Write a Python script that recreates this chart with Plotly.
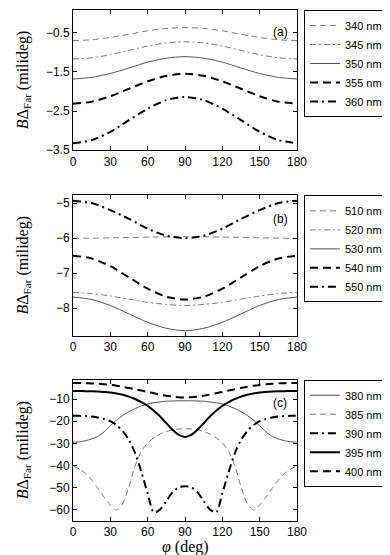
import plotly.graph_objects as go

# angle grids (deg)
phi_ab = [0, 15, 30, 45, 60, 75, 90, 105, 120, 135, 150, 165, 180]
phi_c = list(range(0, 181, 5))

# panel (a)
a340 = [-0.70, -0.68, -0.62, -0.54, -0.45, -0.39, -0.37, -0.39, -0.45, -0.54, -0.62, -0.68, -0.70]
a345 = [-1.17, -1.14, -1.06, -0.95, -0.84, -0.76, -0.73, -0.76, -0.84, -0.95, -1.06, -1.14, -1.17]
a350 = [-1.68, -1.64, -1.54, -1.40, -1.25, -1.15, -1.11, -1.15, -1.25, -1.40, -1.54, -1.64, -1.68]
a355 = [-2.31, -2.26, -2.12, -1.93, -1.74, -1.60, -1.55, -1.60, -1.74, -1.93, -2.12, -2.26, -2.31]
a360 = [-3.32, -3.24, -3.03, -2.73, -2.44, -2.22, -2.14, -2.22, -2.44, -2.73, -3.03, -3.24, -3.32]

# panel (b)
b510 = [-6.01, -6.00, -5.99, -5.98, -5.97, -5.96, -5.96, -5.96, -5.97, -5.98, -5.99, -6.00, -6.01]
b520 = [-7.55, -7.58, -7.65, -7.74, -7.83, -7.89, -7.92, -7.89, -7.83, -7.74, -7.65, -7.58, -7.55]
b530 = [-7.68, -7.75, -7.92, -8.16, -8.40, -8.57, -8.64, -8.57, -8.40, -8.16, -7.92, -7.75, -7.68]
b540 = [-6.50, -6.58, -6.80, -7.12, -7.44, -7.67, -7.75, -7.67, -7.44, -7.12, -6.80, -6.58, -6.50]
b550 = [-4.93, -5.00, -5.20, -5.45, -5.73, -5.93, -6.00, -5.93, -5.73, -5.45, -5.20, -5.00, -4.93]

# panel (c)
c380 = [-29.5, -29.3, -28.8, -28.0, -26.8, -24.8, -22.0, -19.5, -17.4, -15.7, -14.3, -13.1, -12.2,
        -11.7, -11.3, -11.0, -10.9, -10.8, -10.8, -10.8, -10.9, -11.0, -11.3, -11.7, -12.2, -13.1,
        -14.3, -15.7, -17.4, -19.5, -22.0, -24.8, -26.8, -28.0, -28.8, -29.3, -29.5]
c385 = [-40.2, -41.5, -43.5, -46.5, -50.3, -54.2, -57.8, -60.0, -57.0, -49.5, -40.0, -33.5, -29.8,
        -27.4, -25.8, -24.7, -23.9, -23.5, -23.4, -23.5, -23.9, -24.7, -25.8, -27.4, -29.8, -33.5,
        -40.0, -49.5, -57.0, -60.0, -57.8, -54.2, -50.3, -46.5, -43.5, -41.5, -40.2]
c390 = [-17.6, -17.6, -17.7, -17.9, -18.3, -19.0, -20.0, -21.8, -24.5, -28.5, -34.5, -43.0, -52.5,
        -61.2, -59.8, -56.0, -52.0, -49.8, -49.3, -49.8, -52.0, -56.0, -59.8, -61.2, -52.5, -43.0,
        -34.5, -28.5, -24.5, -21.8, -20.0, -19.0, -18.3, -17.9, -17.7, -17.6, -17.6]
c395 = [-6.4, -6.4, -6.45, -6.5, -6.6, -6.8, -7.1, -7.5, -8.1, -8.9, -10.0, -11.4, -13.1,
        -15.3, -17.9, -20.9, -23.9, -26.2, -27.1, -26.2, -23.9, -20.9, -17.9, -15.3, -13.1, -11.4,
        -10.0, -8.9, -8.1, -7.5, -7.1, -6.8, -6.6, -6.5, -6.45, -6.4, -6.4]
c400 = [-2.8, -2.8, -2.85, -2.95, -3.1, -3.35, -3.65, -4.0, -4.5, -5.0, -5.6, -6.2, -6.8,
        -7.4, -8.0, -8.5, -8.9, -9.2, -9.3, -9.2, -8.9, -8.5, -8.0, -7.4, -6.8, -6.2,
        -5.6, -5.0, -4.5, -4.0, -3.65, -3.35, -3.1, -2.95, -2.85, -2.8, -2.8]

GRAY = '#7a7a7a'
DGRAY = '#555555'
DASH_THIN = '6px,4px'
DASHDOT_THIN = '6px,3px,2px,3px'
DASH_THICK = '8px,5px'
DASHDOT_THICK = '8px,4px,2px,4px'

# (label, x, y, color, width, dash)
panel_a = [
    ('340 nm', phi_ab, a340, GRAY, 1, DASH_THIN),
    ('345 nm', phi_ab, a345, GRAY, 1, DASHDOT_THIN),
    ('350 nm', phi_ab, a350, DGRAY, 1, 'solid'),
    ('355 nm', phi_ab, a355, 'black', 2, DASH_THICK),
    ('360 nm', phi_ab, a360, 'black', 2, DASHDOT_THICK),
]
panel_b = [
    ('510 nm', phi_ab, b510, GRAY, 1, DASH_THIN),
    ('520 nm', phi_ab, b520, GRAY, 1, DASHDOT_THIN),
    ('530 nm', phi_ab, b530, DGRAY, 1, 'solid'),
    ('540 nm', phi_ab, b540, 'black', 2, DASH_THICK),
    ('550 nm', phi_ab, b550, 'black', 2, DASHDOT_THICK),
]
panel_c = [
    ('380 nm', phi_c, c380, DGRAY, 1, 'solid'),
    ('385 nm', phi_c, c385, GRAY, 1, DASH_THIN),
    ('390 nm', phi_c, c390, 'black', 2, DASHDOT_THICK),
    ('395 nm', phi_c, c395, 'black', 2, 'solid'),
    ('400 nm', phi_c, c400, 'black', 2, DASH_THICK),
]

fig = go.Figure()
panels = [(panel_a, 'x', 'y', 'legend'), (panel_b, 'x2', 'y2', 'legend2'), (panel_c, 'x3', 'y3', 'legend3')]
for traces, xa, ya, lg in panels:
    for name, x, y, col, w, dash in traces:
        fig.add_trace(go.Scatter(
            x=x, y=y, name=name, mode='lines', xaxis=xa, yaxis=ya, legend=lg,
            line=dict(color=col, width=w, dash=dash, shape='spline', smoothing=0.8),
        ))

TICKFONT = dict(family='Liberation Sans, Arial, sans-serif', size=12, color='black')

def xax(anchor):
    return dict(domain=[0, 1], range=[0, 180], tickvals=[0, 30, 60, 90, 120, 150, 180],
                anchor=anchor, showline=True, linecolor='black', linewidth=1, mirror='ticks',
                ticks='inside', ticklen=4, tickcolor='black', showgrid=False, zeroline=False,
                tickfont=TICKFONT)

def yax(anchor, dom, rng, vals):
    return dict(domain=dom, range=rng, tickvals=vals, anchor=anchor, showline=True,
                linecolor='black', linewidth=1, mirror='ticks', ticks='inside', ticklen=4,
                tickcolor='black', showgrid=False, zeroline=False, tickfont=TICKFONT)

H = 510.0
def dom(top, bot):
    return [(513 - bot) / H, (513 - top) / H]

def legend_box(top_px):
    return dict(x=1.031, xanchor='left', y=(513 - top_px) / H, yanchor='top',
                bgcolor='white', bordercolor='black', borderwidth=1,
                font=dict(family='Liberation Sans, Arial, sans-serif', size=11, color='black'),
                itemwidth=30, tracegroupgap=0)

fig.update_layout(
    width=390, height=555,
    margin=dict(l=65, r=101, t=2, b=42),
    paper_bgcolor='white', plot_bgcolor='white',
    showlegend=True,
    xaxis=xax('y'), xaxis2=xax('y2'), xaxis3=xax('y3'),
    yaxis=yax('x', dom(3, 143), [-3.5, 0.08], [-3.5, -2.5, -1.5, -0.5]),
    yaxis2=yax('x2', dom(188, 328), [-8.78, -4.78], [-8, -7, -6, -5]),
    yaxis3=yax('x3', dom(372, 513), [-65, -1.3], [-60, -50, -40, -30, -20, -10]),
    legend=legend_box(3), legend2=legend_box(188), legend3=legend_box(372),
)

SERIF = dict(family='Liberation Serif, Times New Roman, serif', size=16, color='black')
ytitle = '<i>B</i>Δ<sub>Far</sub> (milideg)'
for top, bot in [(3, 143), (188, 328), (372, 513)]:
    fig.add_annotation(text=ytitle, xref='paper', yref='paper', x=(15 - 65) / 224.0,
                       y=(513 - (top + bot) / 2) / H, xanchor='center', yanchor='middle',
                       textangle=-90, showarrow=False, font=SERIF)

fig.add_annotation(text='<i>φ</i> (deg)', xref='paper', yref='paper', x=0.5,
                   y=(513 - 539) / H, xanchor='center', yanchor='middle',
                   showarrow=False, font=SERIF)

LBL = dict(family='Liberation Sans, Arial, sans-serif', size=12, color='black')
for txt, ypx in [('(a)', 25), ('(b)', 212), ('(c)', 395)]:
    fig.add_annotation(text=txt, xref='paper', yref='paper', x=(272 - 65) / 224.0,
                       y=(513 - ypx) / H, xanchor='center', yanchor='middle',
                       showarrow=False, font=LBL)

fig.write_html('out.html')
